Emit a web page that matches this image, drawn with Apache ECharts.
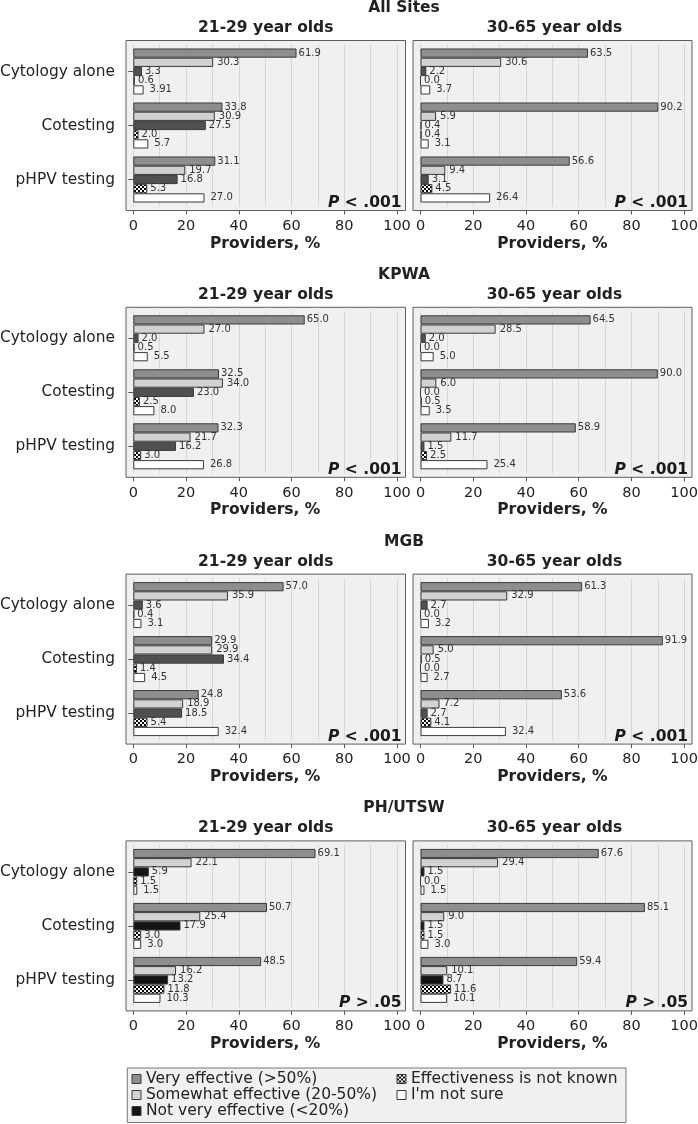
<!DOCTYPE html>
<html><head><meta charset="utf-8">
<script src="https://cdn.jsdelivr.net/npm/echarts@6/dist/echarts.min.js"></script>
<style>html,body{margin:0;padding:0;background:#fff}#c{width:698px;height:1124px}</style>
</head><body><div id="c"></div>
<script>
// ---------------- data ----------------
const sites = ['All Sites', 'KPWA', 'MGB', 'PH/UTSW'];
const ageGroups = ['21-29 year olds', '30-65 year olds'];
const categories = ['Cytology alone', 'Cotesting', 'pHPV testing'];
const responses = ['Very effective (>50%)', 'Somewhat effective (20-50%)', 'Not very effective (<20%)', 'Effectiveness is not known', "I'm not sure"];
const xTickValues = [0, 20, 40, 60, 80, 100];
const pValues = ['P < .001', 'P < .001', 'P < .001', 'P > .05'];
const axisTitle = 'Providers, %';

// rows: categories; columns: responses (same order as above)
const allSites2129 = [[61.9, 30.3, 3.3, 0.6, 3.91], [33.8, 30.9, 27.5, 2.0, 5.7], [31.1, 19.7, 16.8, 5.3, 27.0]];
const allSites3065 = [[63.5, 30.6, 2.2, 0.0, 3.7], [90.2, 5.9, 0.4, 0.4, 3.1], [56.6, 9.4, 3.1, 4.5, 26.4]];
const kpwa2129 = [[65.0, 27.0, 2.0, 0.5, 5.5], [32.5, 34.0, 23.0, 2.5, 8.0], [32.3, 21.7, 16.2, 3.0, 26.8]];
const kpwa3065 = [[64.5, 28.5, 2.0, 0.0, 5.0], [90.0, 6.0, 0.0, 0.5, 3.5], [58.9, 11.7, 1.5, 2.5, 25.4]];
const mgb2129 = [[57.0, 35.9, 3.6, 0.4, 3.1], [29.9, 29.9, 34.4, 1.4, 4.5], [24.8, 18.9, 18.5, 5.4, 32.4]];
const mgb3065 = [[61.3, 32.9, 2.7, 0.0, 3.2], [91.9, 5.0, 0.5, 0.0, 2.7], [53.6, 7.2, 2.7, 4.1, 32.4]];
const phutsw2129 = [[69.1, 22.1, 5.9, 1.5, 1.5], [50.7, 25.4, 17.9, 3.0, 3.0], [48.5, 16.2, 13.2, 11.8, 10.3]];
const phutsw3065 = [[67.6, 29.4, 1.5, 0.0, 1.5], [85.1, 9.0, 1.5, 1.5, 3.0], [59.4, 10.1, 8.7, 11.6, 10.1]];

const panelData = [[allSites2129, allSites3065], [kpwa2129, kpwa3065], [mgb2129, mgb3065], [phutsw2129, phutsw3065]];

// ---------------- styling ----------------
const FONT = 'DejaVu Sans';
const checker = document.createElement('canvas');
checker.width = 4; checker.height = 4;
(function () {
  const ctx = checker.getContext('2d');
  ctx.fillStyle = '#ffffff'; ctx.fillRect(0, 0, 4, 4);
  ctx.fillStyle = '#000000'; ctx.fillRect(0, 0, 2, 2); ctx.fillRect(2, 2, 2, 2);
})();
const checkerFill = { image: checker, repeat: 'repeat' };

function seriesColor(si, ri) {
  if (ri === 0) return '#8e8e8e';
  if (ri === 1) return '#d2d2d2';
  if (ri === 2) return si === 3 ? '#141414' : '#505050';
  if (ri === 3) return checkerFill;
  return '#ffffff';
}
const labelDist = [2, 4, 3, 3, 6];

const top0 = 40.5, step = 266.8, frameH = 170, inset = 4;
const frameLeft = [126, 413], frameW = [279.5, 279];
const dataLeft = [133.3, 420.5], dataW = 263.7;

const grids = [], xAxes = [], yAxes = [], series = [], graphics = [];

sites.forEach((site, si) => {
  const top = top0 + si * step;
  graphics.push({ type: 'text', z: 10, x: 404, y: top - 32.5,
    style: { text: site, font: `bold 15.5px "${FONT}"`, fill: '#222', textAlign: 'center', textVerticalAlign: 'middle' } });
  ageGroups.forEach((ag, pi) => {
    const fi = grids.length;
    grids.push({ show: true, z: 0, left: frameLeft[pi], top: top, width: frameW[pi], height: frameH,
      outerBoundsMode: 'none', containLabel: false,
      backgroundColor: '#f0f0f2', borderColor: '#5e5e5e', borderWidth: 1 });
    xAxes.push({ gridIndex: fi, type: 'value', show: false, min: 0, max: 1 });
    yAxes.push({ gridIndex: fi, type: 'value', show: false, min: 0, max: 1 });
    const di = grids.length;
    grids.push({ show: false, left: dataLeft[pi], top: top + inset, width: dataW, height: frameH - 2 * inset,
      outerBoundsMode: 'none', containLabel: false });
    xAxes.push({ gridIndex: di, type: 'value', min: 0, max: 100, interval: 20, position: 'bottom', offset: inset, z: 1,
      axisLine: { show: false },
      axisTick: { show: true, length: 4, lineStyle: { color: '#555' } },
      axisLabel: { fontSize: 14.5, color: '#222', margin: 8, fontFamily: FONT,
        customValues: xTickValues },
      splitLine: { show: true, lineStyle: { color: '#d6d6d6', width: 1 } },
      minorTick: { show: false, splitNumber: 2 },
      minorSplitLine: { show: true, lineStyle: { color: '#d6d6d6', width: 1 } },
      name: axisTitle, nameLocation: 'middle', nameGap: 25,
      nameTextStyle: { fontSize: 15.5, fontWeight: 'bold', color: '#222', fontFamily: FONT } });
    yAxes.push({ gridIndex: di, type: 'category', data: categories, inverse: true, offset: dataLeft[pi] - frameLeft[pi], z: 1,
      axisLine: { show: false },
      axisTick: { show: pi === 0, length: 5, alignWithLabel: true, lineStyle: { color: '#555' } },
      axisLabel: { show: pi === 0, fontSize: 15.4, color: '#222', margin: 11, fontFamily: FONT },
      splitLine: { show: false } });
    const rows = panelData[si][pi];
    responses.forEach((resp, ri) => {
      series.push({ type: 'bar', name: resp, xAxisIndex: di, yAxisIndex: di, z: 2,
        barGap: '0%', barCategoryGap: '14.8%',
        data: rows.map(r => r[ri]),
        itemStyle: { color: seriesColor(si, ri), borderColor: '#3a3a3a', borderWidth: 1 },
        label: { show: true, position: 'right', distance: labelDist[ri], fontSize: 10, color: '#333', fontFamily: FONT,
          formatter: p => (Math.abs(Math.round(p.value * 10) - p.value * 10) < 1e-9 ? p.value.toFixed(1) : String(p.value)) },
        emphasis: { disabled: true }, animation: false });
    });
    // panel title
    graphics.push({ type: 'text', z: 10, x: frameLeft[pi] + frameW[pi] / 2 + (pi === 1 ? 2 : 0), y: top - 12.5,
      style: { text: ag, font: `bold 15.5px "${FONT}"`, fill: '#222', textAlign: 'center', textVerticalAlign: 'middle' } });
    // p value
    const pv = pValues[si];
    graphics.push({ type: 'text', z: 10, x: frameLeft[pi] + frameW[pi] - 4, y: top + frameH - 7.5,
      style: { text: '{i|' + pv.slice(0, 1) + '}' + pv.slice(1), font: `bold 15.5px "${FONT}"`, fill: '#1a1a1a',
        textAlign: 'right', textVerticalAlign: 'middle',
        rich: { i: { fontStyle: 'italic', fontWeight: 'bold', fontSize: 15.5, fontFamily: FONT, color: '#1a1a1a' } } } });
  });
});

// legend box
graphics.push({ type: 'rect', z: -1, shape: { x: 127.3, y: 1068, width: 498.7, height: 54.5 },
  style: { fill: '#f0f0f2', stroke: '#777', lineWidth: 1 } });

const legendItems = responses.map((r, ri) => ({ name: r, itemStyle: { color: seriesColor(3, ri), borderColor: '#3a3a3a', borderWidth: 1 } }));
const legendCommon = { orient: 'vertical', top: 1071, itemWidth: 9, itemHeight: 9, itemGap: 0, padding: 0, icon: 'rect',
  selectedMode: false, z: 5,
  textStyle: { fontSize: 15.5, color: '#222', fontFamily: FONT, lineHeight: 16 } };

const option = {
  animation: false,
  textStyle: { fontFamily: FONT },
  grid: grids, xAxis: xAxes, yAxis: yAxes, series: series,
  legend: [
    Object.assign({}, legendCommon, { left: 131.5, data: legendItems.slice(0, 3) }),
    Object.assign({}, legendCommon, { left: 396.5, data: legendItems.slice(3) })
  ],
  graphic: { elements: graphics }
};
const chart = echarts.init(document.getElementById('c'), null, { renderer: 'canvas' });
chart.setOption(option);
</script>
</body></html>
